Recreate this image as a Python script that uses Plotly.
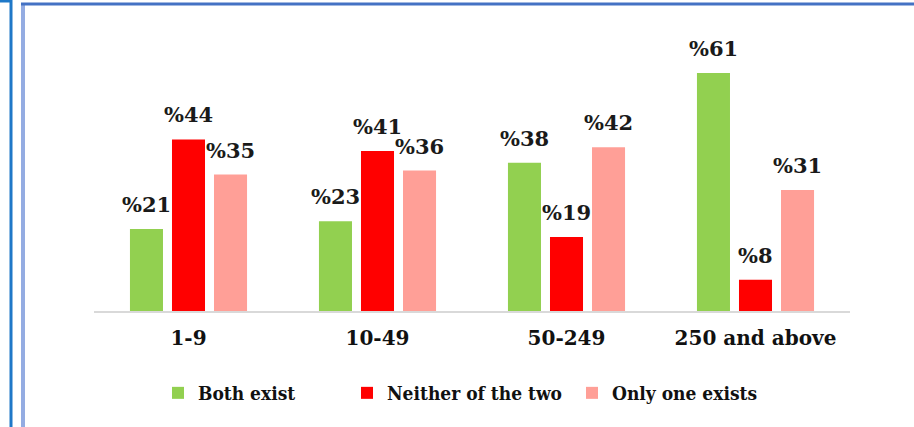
import plotly.graph_objects as go

categories = ["1-9", "10-49", "50-249", "250 and above"]
series_names = ["Both exist", "Neither of the two", "Only one exists"]
both_exist = [21, 23, 38, 61]
neither = [44, 41, 19, 8]
only_one = [35, 36, 42, 31]
colors = ["#92d050", "#ff0000", "#ff9f97"]

W, H = 914, 427
L, R, T, B = 94, 64, 38, 116
pw, ph = W - L - R, H - T - B
ymax = 70

def px(x):
    return (x - L) / pw

def py(y):
    return (H - B - y) / ph

fig = go.Figure()
all_series = [both_exist, neither, only_one]
legend_ids = ["legend", "legend2", "legend3"]
for name, vals, col, lg in zip(series_names, all_series, colors, legend_ids):
    fig.add_trace(go.Bar(x=categories, y=vals, name=name, marker_color=col,
                         marker_line_width=0, legend=lg))

annotations = []
offsets = [-42, 0, 42]
for vals, off in zip(all_series, offsets):
    for c, v in zip(categories, vals):
        annotations.append(dict(x=c, y=v, text="%" + str(v), showarrow=False,
                                xshift=off, yanchor="bottom", yshift=10,
                                font=dict(family="DejaVu Serif", size=21,
                                          color="#1a1a1a", weight="bold")))

shapes = [
    # outer left border
    dict(type="line", xref="paper", yref="paper", x0=px(11), x1=px(11), y0=py(0), y1=py(H),
         line=dict(color="#1f78c8", width=3)),
    dict(type="line", xref="paper", yref="paper", x0=px(0), x1=px(12), y0=py(1), y1=py(1),
         line=dict(color="#1f78c8", width=3)),
    # inner border (double line look)
    dict(type="line", xref="paper", yref="paper", x0=px(22), x1=px(22), y0=py(3), y1=py(H),
         line=dict(color="#7090d8", width=1.5)),
    dict(type="line", xref="paper", yref="paper", x0=px(24), x1=px(24), y0=py(5), y1=py(H),
         line=dict(color="#7090d8", width=1.5)),
    dict(type="line", xref="paper", yref="paper", x0=px(21), x1=px(W), y0=py(4), y1=py(4),
         line=dict(color="#4472c4", width=3)),
]

legend_font = dict(family="DejaVu Serif Condensed", size=19, color="#111", weight="bold")
def make_legend(xpix):
    return dict(orientation="h", x=px(xpix), xanchor="left", y=py(393), yanchor="middle",
                font=legend_font, itemwidth=30, bgcolor="rgba(0,0,0,0)")

fig.update_layout(
    width=W, height=H,
    margin=dict(l=L, r=R, t=T, b=B, autoexpand=False),
    paper_bgcolor="white", plot_bgcolor="white",
    barmode="group", bargap=0.333, bargroupgap=0.214,
    showlegend=True,
    legend=make_legend(158),
    legend2=make_legend(347),
    legend3=make_legend(572),
    xaxis=dict(showline=True, linecolor="#d9d9d9", linewidth=2, ticks="",
               ticklabelstandoff=8,
               tickfont=dict(family="DejaVu Serif", size=20, color="#111", weight="bold")),
    yaxis=dict(range=[0, ymax], visible=False, showgrid=False),
    annotations=annotations,
    shapes=shapes,
)

fig.write_html("out.html", config={"displayModeBar": False},
               post_script="document.body.style.margin='0';")
